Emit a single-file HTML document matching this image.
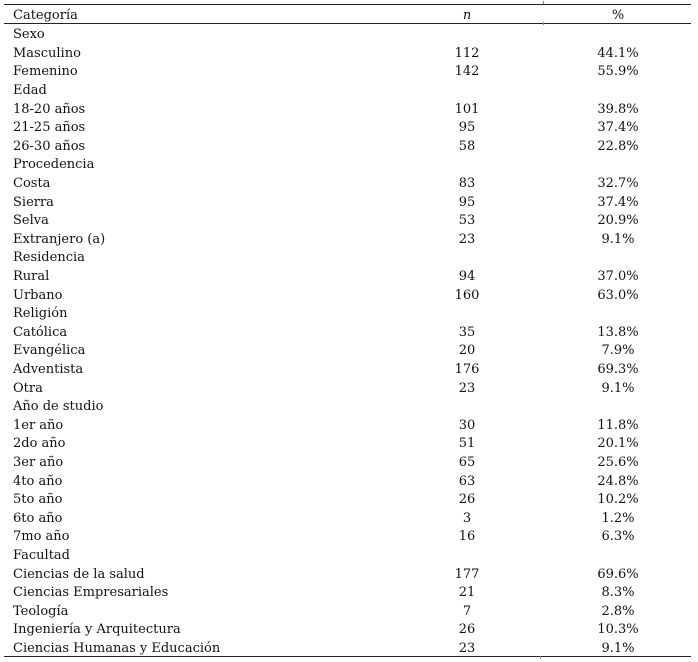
<!DOCTYPE html>
<html>
<head>
<meta charset="utf-8">
<style>
html,body{margin:0;padding:0;background:#fff;}
body{width:698px;height:662px;position:relative;overflow:hidden;
font-family:"DejaVu Serif","Liberation Serif",serif;font-size:13px;color:#111;}
.r{position:absolute;left:0;width:698px;height:18.6px;line-height:18.6px;white-space:nowrap;}
.c1{position:absolute;left:13px;}
.c2{position:absolute;left:417px;width:100px;text-align:center;}
.c3{position:absolute;left:568px;width:100px;text-align:center;}
.hl{position:absolute;left:4px;width:687px;height:1px;background:#222;}
.tk{position:absolute;width:1px;height:3px;background:#888;}
</style>
</head>
<body>
<div class="hl" style="top:4px;"></div>
<div class="hl" style="top:23px;"></div>
<div class="hl" style="top:656px;"></div>
<div class="tk" style="left:543px;top:1px;"></div>
<div class="tk" style="left:543px;top:22px;"></div>
<div class="tk" style="left:540px;top:656px;"></div>

<div class="r" style="top:7.0px;"><span class="c1">Categoría</span><span class="c2"><i>n</i></span><span class="c3">%</span></div>

<div class="r" style="top:26.2px;"><span class="c1">Sexo</span></div>
<div class="r" style="top:44.8px;"><span class="c1">Masculino</span><span class="c2">112</span><span class="c3">44.1%</span></div>
<div class="r" style="top:63.4px;"><span class="c1">Femenino</span><span class="c2">142</span><span class="c3">55.9%</span></div>
<div class="r" style="top:82.0px;"><span class="c1">Edad</span></div>
<div class="r" style="top:100.6px;"><span class="c1">18-20 años</span><span class="c2">101</span><span class="c3">39.8%</span></div>
<div class="r" style="top:119.2px;"><span class="c1">21-25 años</span><span class="c2">95</span><span class="c3">37.4%</span></div>
<div class="r" style="top:137.8px;"><span class="c1">26-30 años</span><span class="c2">58</span><span class="c3">22.8%</span></div>
<div class="r" style="top:156.4px;"><span class="c1">Procedencia</span></div>
<div class="r" style="top:175.0px;"><span class="c1">Costa</span><span class="c2">83</span><span class="c3">32.7%</span></div>
<div class="r" style="top:193.6px;"><span class="c1">Sierra</span><span class="c2">95</span><span class="c3">37.4%</span></div>
<div class="r" style="top:212.2px;"><span class="c1">Selva</span><span class="c2">53</span><span class="c3">20.9%</span></div>
<div class="r" style="top:230.8px;"><span class="c1">Extranjero (a)</span><span class="c2">23</span><span class="c3">9.1%</span></div>
<div class="r" style="top:249.4px;"><span class="c1">Residencia</span></div>
<div class="r" style="top:268.0px;"><span class="c1">Rural</span><span class="c2">94</span><span class="c3">37.0%</span></div>
<div class="r" style="top:286.6px;"><span class="c1">Urbano</span><span class="c2">160</span><span class="c3">63.0%</span></div>
<div class="r" style="top:305.2px;"><span class="c1">Religión</span></div>
<div class="r" style="top:323.8px;"><span class="c1">Católica</span><span class="c2">35</span><span class="c3">13.8%</span></div>
<div class="r" style="top:342.4px;"><span class="c1">Evangélica</span><span class="c2">20</span><span class="c3">7.9%</span></div>
<div class="r" style="top:361.0px;"><span class="c1">Adventista</span><span class="c2">176</span><span class="c3">69.3%</span></div>
<div class="r" style="top:379.6px;"><span class="c1">Otra</span><span class="c2">23</span><span class="c3">9.1%</span></div>
<div class="r" style="top:398.2px;"><span class="c1">Año de studio</span></div>
<div class="r" style="top:416.8px;"><span class="c1">1er año</span><span class="c2">30</span><span class="c3">11.8%</span></div>
<div class="r" style="top:435.4px;"><span class="c1">2do año</span><span class="c2">51</span><span class="c3">20.1%</span></div>
<div class="r" style="top:454.0px;"><span class="c1">3er año</span><span class="c2">65</span><span class="c3">25.6%</span></div>
<div class="r" style="top:472.6px;"><span class="c1">4to año</span><span class="c2">63</span><span class="c3">24.8%</span></div>
<div class="r" style="top:491.2px;"><span class="c1">5to año</span><span class="c2">26</span><span class="c3">10.2%</span></div>
<div class="r" style="top:509.8px;"><span class="c1">6to año</span><span class="c2">3</span><span class="c3">1.2%</span></div>
<div class="r" style="top:528.4px;"><span class="c1">7mo año</span><span class="c2">16</span><span class="c3">6.3%</span></div>
<div class="r" style="top:547.0px;"><span class="c1">Facultad</span></div>
<div class="r" style="top:565.6px;"><span class="c1">Ciencias de la salud</span><span class="c2">177</span><span class="c3">69.6%</span></div>
<div class="r" style="top:584.2px;"><span class="c1">Ciencias Empresariales</span><span class="c2">21</span><span class="c3">8.3%</span></div>
<div class="r" style="top:602.8px;"><span class="c1">Teología</span><span class="c2">7</span><span class="c3">2.8%</span></div>
<div class="r" style="top:621.4px;"><span class="c1">Ingeniería y Arquitectura</span><span class="c2">26</span><span class="c3">10.3%</span></div>
<div class="r" style="top:640.0px;"><span class="c1">Ciencias Humanas y Educación</span><span class="c2">23</span><span class="c3">9.1%</span></div>
</body>
</html>
